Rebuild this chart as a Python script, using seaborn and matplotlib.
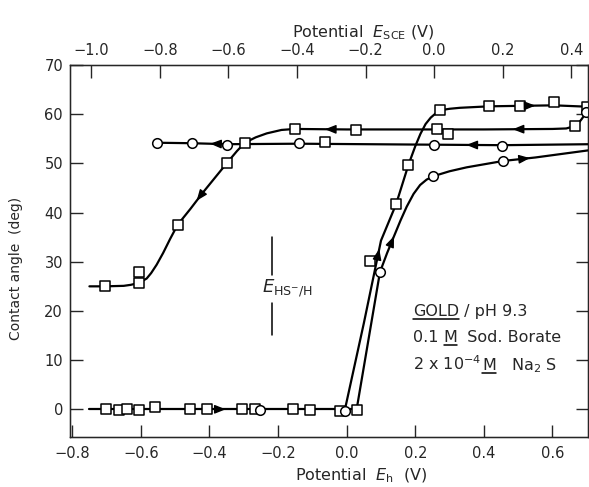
import numpy as np
import matplotlib
matplotlib.use('Agg')
import matplotlib.pyplot as plt
from matplotlib.lines import Line2D
from matplotlib.transforms import IdentityTransform
import seaborn as sns

# E_SCE = E_h - SCE_OFFSET
SCE_OFFSET = 0.255

# open squares: first sweep (flat at zero, then the rise)
sq_base_x = [-0.702, -0.663, -0.641, -0.605, -0.558, -0.457, -0.406, -0.306, -0.267, -0.157, -0.107, -0.0195, 0.029]
sq_base_y = [0.1, -0.2, 0.1, -0.2, 0.4, 0.1, 0.0, 0.1, 0.0, 0.0, -0.1, -0.3, -0.2]
sq_up_x = [0.068, 0.144, 0.18, 0.272, 0.415, 0.505, 0.605, 0.70]
sq_up_y = [30.2, 41.7, 49.7, 60.8, 61.6, 61.7, 62.4, 61.4]
# open squares: return sweep
sq_down_x = [0.666, 0.294, 0.262, 0.026, -0.063, -0.151, -0.297, -0.35, -0.493, -0.605, -0.605, -0.705]
sq_down_y = [57.6, 55.9, 56.9, 56.8, 54.3, 57.0, 54.2, 50.0, 37.5, 28.0, 25.6, 25.1]

# open circles
ci_base_x = [-0.253, -0.005]
ci_base_y = [-0.1, -0.3]
ci_up_x = [0.097, 0.253, 0.457, 0.698]
ci_up_y = [27.9, 47.4, 50.5, 60.4]
ci_down_x = [0.454, 0.256, -0.14, -0.348, -0.452, -0.554]
ci_down_y = [53.6, 53.7, 54.1, 53.8, 54.1, 54.2]

# hand-drawn curves
curves = {
    'base': ([-0.75, 0.029], [0.0, 0.0]),
    'sq_up': ([-0.005, 0.05, 0.10, 0.144, 0.18, 0.20, 0.215, 0.23, 0.245, 0.26, 0.272, 0.30, 0.33, 0.415, 0.505, 0.605, 0.71],
              [0.0, 17.5, 34.3, 41.7, 49.7, 53.5, 56.0, 58.0, 59.3, 60.2, 60.8, 61.1, 61.3, 61.6, 61.7, 61.8, 61.5]),
    'sq_down': ([0.71, 0.695, 0.685, 0.675, 0.666, 0.64, 0.60, 0.40, 0.20, 0.0, -0.151, -0.19, -0.233, -0.265,
                 -0.297, -0.32, -0.35, -0.385, -0.42, -0.455, -0.493, -0.515, -0.535, -0.554, -0.57, -0.583,
                 -0.605, -0.63, -0.65, -0.705, -0.75],
                [61.0, 60.0, 59.0, 58.1, 57.6, 57.1, 57.0, 56.9, 56.9, 56.9, 57.0, 56.8, 56.1, 55.3,
                 54.2, 52.5, 50.0, 47.0, 44.0, 40.8, 37.5, 34.6, 31.8, 29.4, 27.7, 26.6,
                 25.7, 25.3, 25.1, 25.0, 25.0]),
    'ci_up': ([0.029, 0.097, 0.118, 0.138, 0.157, 0.175, 0.195, 0.214, 0.233, 0.253, 0.30, 0.35, 0.457, 0.55, 0.71],
              [0.0, 27.9, 31.8, 35.2, 38.4, 41.2, 43.8, 45.6, 46.7, 47.4, 48.4, 49.2, 50.5, 51.2, 52.7]),
    'ci_down': ([0.71, 0.454, 0.256, -0.14, -0.348, -0.452, -0.554],
                [53.9, 53.7, 53.8, 54.0, 53.9, 54.1, 54.2]),
}
# arrow heads: (curve, fractional index along the curve)
arrows = [('base', 0.51), ('sq_up', 1.9), ('sq_up', 14.45), ('sq_down', 6.58), ('sq_down', 9.42),
          ('sq_down', 18.5), ('ci_up', 3.0), ('ci_up', 12.83), ('ci_down', 1.53), ('ci_down', 4.48)]

# E_HS-/H marker
ehs_x = -0.217
ehs_upper = [27.3, 35.0]
ehs_lower = [15.1, 21.6]

xticks_h = [-0.8, -0.6, -0.4, -0.2, 0.0, 0.2, 0.4, 0.6]
xticks_sce = [-1.0, -0.8, -0.6, -0.4, -0.2, 0.0, 0.2, 0.4]
yticks = [0, 10, 20, 30, 40, 50, 60, 70]

sns.set_style('ticks')
plt.rcParams['font.family'] = ['DejaVu Sans']
plt.rcParams['mathtext.fontset'] = 'dejavusans'

fig = plt.figure(figsize=(5.89, 4.87), dpi=100)
ax = fig.add_axes([0.1188, 0.1033, 0.8795, 0.7632])
ax.set_xlim(-0.8067, 0.7035)
ax.set_ylim(-5.57, 70)

for key, (cx, cy) in curves.items():
    sns.lineplot(x=cx, y=cy, sort=False, estimator=None, color='black', linewidth=1.6, ax=ax)

for xs, ys, m, s in [(sq_base_x, sq_base_y, 's', 52), (sq_up_x, sq_up_y, 's', 52),
                     (sq_down_x, sq_down_y, 's', 52), (ci_base_x, ci_base_y, 'o', 48),
                     (ci_up_x, ci_up_y, 'o', 48), (ci_down_x, ci_down_y, 'o', 48)]:
    sns.scatterplot(x=xs, y=ys, marker=m, s=s, color='white', edgecolor='black',
                    linewidth=1.1, zorder=4, ax=ax)

# arrow heads along the curves
for key, t in arrows:
    cx, cy = curves[key]
    i = int(t)
    f = t - i
    p0 = np.array([cx[i], cy[i]])
    p1 = np.array([cx[i + 1], cy[i + 1]])
    pos = p0 + f * (p1 - p0)
    d = ax.transData.transform(p1) - ax.transData.transform(p0)
    d = d / np.hypot(*d)
    ax.annotate('', xy=pos, xytext=(-d[0] * 6, -d[1] * 6), textcoords='offset points',
                arrowprops=dict(arrowstyle='-|>,head_length=0.55,head_width=0.22',
                                mutation_scale=12, color='black', lw=1, shrinkA=0, shrinkB=0),
                zorder=5)

ax.plot([ehs_x, ehs_x], ehs_upper, color='black', lw=1.1)
ax.plot([ehs_x, ehs_x], ehs_lower, color='black', lw=1.1)
ax.text(-0.247, 24.6, r'$E_{\mathrm{HS^{-}/H}}$', fontsize=13, ha='left', va='center')

# legend text block
fs = 11.5
underlined = []


def piece(s, after, y, under=False):
    if after is None:
        t = ax.text(0.193, y, s, fontsize=fs, ha='left', va='baseline')
    else:
        t = ax.annotate(s, xy=(1, y), xycoords=(after, 'data'), fontsize=fs,
                        ha='left', va='baseline')
    if under:
        underlined.append((t, y))
    return t


t = piece('GOLD', None, 19.0, under=True)
piece(' / pH 9.3', t, 19.0)
t = piece('0.1 ', None, 13.7)
t = piece('M', t, 13.7, under=True)
piece('  Sod. Borate', t, 13.7)
t = piece(r'2 x 10$^{-4}$ ', None, 8.0)
t = piece('M', t, 8.0, under=True)
piece(r'   Na$_2$ S', t, 8.0)

ax.set_xticks(xticks_h)
ax.set_xticklabels([f'{v:.1f}'.replace('-', '\u2212') for v in xticks_h])
ax.set_yticks(yticks)
ax.tick_params(axis='x', direction='in', length=9, width=1, labelsize=10.5, pad=7, top=False)
ax.tick_params(axis='y', direction='in', length=9, width=1, labelsize=10.5, pad=5, right=True)
for sp in ax.spines.values():
    sp.set_visible(True)
    sp.set_linewidth(1.0)
    sp.set_color('black')

ax.set_xlabel(r'Potential  $E_{\mathrm{h}}$  (V)', fontsize=11.5)
ax.xaxis.set_label_coords(0.563, -0.08)
ax.set_ylabel('Contact angle  (deg)', fontsize=10)
ax.yaxis.set_label_coords(-0.09, 0.454)

ax2 = ax.twiny()
ax2.set_xlim(ax.get_xlim()[0] - SCE_OFFSET, ax.get_xlim()[1] - SCE_OFFSET)
ax2.set_xticks(xticks_sce)
ax2.set_xticklabels([f'{v:.1f}'.replace('-', '\u2212') for v in xticks_sce])
ax2.tick_params(axis='x', direction='in', length=9, width=1, labelsize=10.5, pad=5)
ax2.set_xlabel(r'Potential  $E_{\mathrm{SCE}}$ (V)', fontsize=11.5)
ax2.xaxis.set_label_coords(0.567, 1.075)

# underline the marked words, measured once the layout is known
fig.canvas.draw()
renderer = fig.canvas.get_renderer()
for t, y in underlined:
    bb = t.get_window_extent(renderer)
    base = ax.transData.transform((0, y))[1]
    fig.add_artist(Line2D([bb.x0, bb.x1], [base - 3, base - 3], color='black', lw=1.1,
                          transform=IdentityTransform()))

fig.savefig('out.png', dpi=100)
